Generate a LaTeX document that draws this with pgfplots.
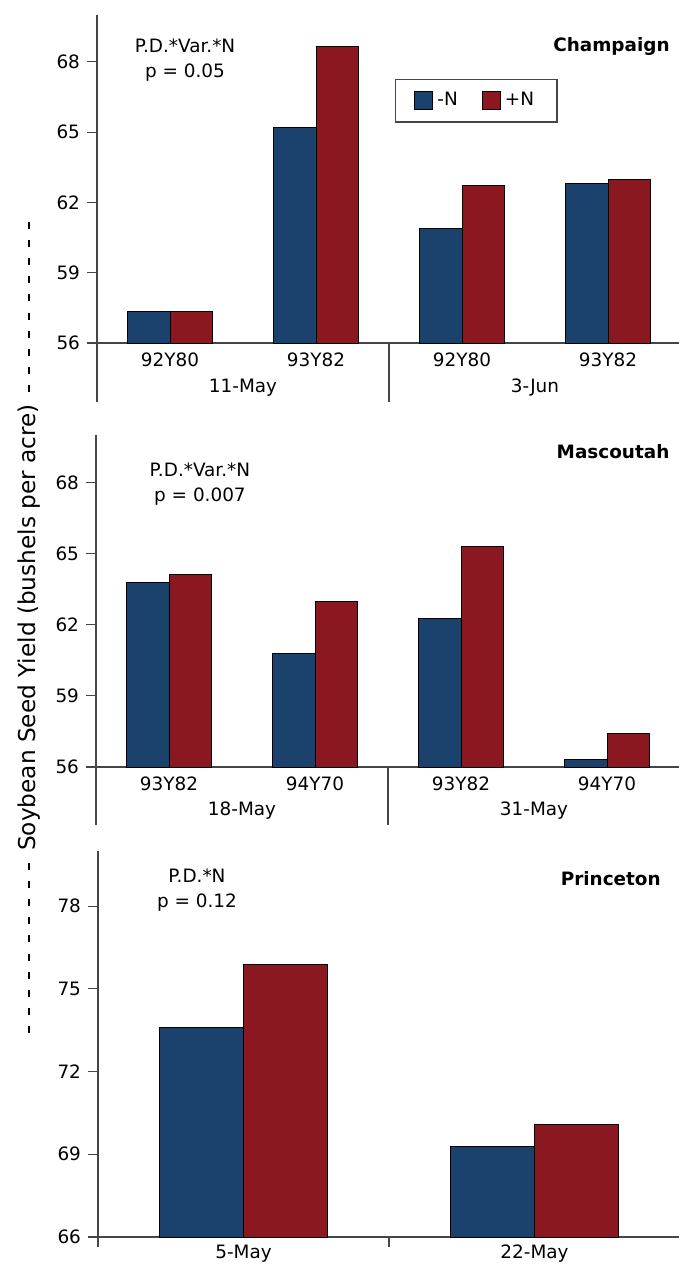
\documentclass[border=0pt]{standalone}
\usepackage{fontspec}
\setmainfont{DejaVu Sans}
\usepackage{pgfplots}
\pgfplotsset{compat=1.18}
\definecolor{nblue}{RGB}{26,66,108}
\definecolor{nred}{RGB}{139,24,32}
\definecolor{axgray}{RGB}{70,70,70}
\newcommand\fsz{\fontsize{9.2pt}{12.5pt}\selectfont}
\pgfplotsset{
  panel/.style={
    scale only axis,
    anchor=north west,
    width=292pt,
    ymin=56, ymax=70,
    ytick={56,59,62,65,68},
    xmin=-0.5, xmax=3.5,
    xtick={0,1,2,3},
    enlargelimits=false,
    axis x line=bottom, axis y line=left,
    axis line style={-, draw=axgray, line width=0.6pt},
    tick align=outside,
    major tick length=5pt,
    ytick style={draw=axgray, line width=0.6pt},
    xtick style={draw=none},
    ybar=0pt, bar width=0.29,
    clip mode=individual,
    /pgf/number format/assume math mode=true,
    tick label style={font=\fsz},
    xticklabel style={anchor=center, yshift=-3.5pt},
    legend image code/.code={\draw[#1,draw=black] (0pt,-4.5pt) rectangle (9pt,4.5pt);},
  },
  neg/.style={fill=nblue, draw=black, line width=0.5pt, bar shift=-0.145},
  pos/.style={fill=nred, draw=black, line width=0.5pt, bar shift=0.145},
}
\begin{document}
\begin{tikzpicture}
\path[use as bounding box] (0pt,0pt) rectangle (339.5pt,-632.5pt);

% y label with dashes
\node[rotate=90, font=\fontsize{11.6pt}{14pt}\selectfont, anchor=center] at (14.5pt,-313.75pt) {Soybean Seed Yield (bushels per acre)};
\draw[line width=1pt, dash pattern=on 3.5pt off 5.56pt] (14.5pt,-111pt) -- (14.5pt,-196pt);
\draw[line width=1pt, dash pattern=on 3.5pt off 5.56pt] (14.5pt,-431.5pt) -- (14.5pt,-516.5pt);

% Panel 1: Champaign
\begin{axis}[panel, at={(48.5pt,-7.5pt)}, height=164pt,
  xticklabels={92Y80,93Y82,92Y80,93Y82},
  legend columns=2,
  legend style={at={(0.510,0.805)}, anchor=north west, draw=axgray, line width=0.6pt,
    font=\fsz, inner xsep=9.5pt, inner ysep=4.5pt,
    /tikz/every even column/.append style={column sep=10pt}},
]
\addplot[neg] coordinates {(0,57.33) (1,65.2) (2,60.88) (3,62.8)};
\addplot[pos] coordinates {(0,57.33) (1,68.65) (2,62.72) (3,63.0)};
\legend{-N,+N}
\node[align=center, font=\fsz] at (axis cs:0.103,68.06) {P.D.*Var.*N\\p = 0.05};
\node[anchor=east, inner sep=0pt, font=\fsz\bfseries] at (axis cs:3.425,68.64) {Champaign};
\node[font=\fsz] at (axis cs:0.5,56) [yshift=-22.5pt] {11-May};
\node[font=\fsz] at (axis cs:2.5,56) [yshift=-22.5pt] {3-Jun};
\draw[axgray, line width=0.6pt] (axis cs:-0.5,56) -- ++(0pt,-29.5pt);
\draw[axgray, line width=0.6pt] (axis cs:1.5,56) -- ++(0pt,-29.5pt);
\end{axis}

% Panel 2: Mascoutah
\begin{axis}[panel, at={(48pt,-217.5pt)}, height=166pt,
  xticklabels={93Y82,94Y70,93Y82,94Y70},
]
\addplot[neg] coordinates {(0,63.8) (1,60.79) (2,62.26) (3,56.3)};
\addplot[pos] coordinates {(0,64.1) (1,63.0) (2,65.28) (3,57.4)};
\node[align=center, font=\fsz] at (axis cs:0.212,67.92) {P.D.*Var.*N\\p = 0.007};
\node[anchor=east, inner sep=0pt, font=\fsz\bfseries] at (axis cs:3.43,69.29) {Mascoutah};
\node[font=\fsz] at (axis cs:0.5,56) [yshift=-22pt] {18-May};
\node[font=\fsz] at (axis cs:2.5,56) [yshift=-22pt] {31-May};
\draw[axgray, line width=0.6pt] (axis cs:-0.5,56) -- ++(0pt,-29pt);
\draw[axgray, line width=0.6pt] (axis cs:1.5,56) -- ++(0pt,-29pt);
\end{axis}

% Panel 3: Princeton
\begin{axis}[panel, at={(49pt,-425.5pt)}, width=291pt, height=193pt,
  ymin=66, ymax=80, ytick={66,69,72,75,78},
  xmin=-0.5, xmax=1.5, xtick={0,1},
  xticklabels={5-May,22-May},
]
\addplot[neg] coordinates {(0,73.6) (1,69.29)};
\addplot[pos] coordinates {(0,75.9) (1,70.09)};
\node[align=center, font=\fsz] at (axis cs:-0.16,78.57) {P.D.*N\\p = 0.12};
\node[anchor=east, inner sep=0pt, font=\fsz\bfseries] at (axis cs:1.435,79.0) {Princeton};
\draw[axgray, line width=0.6pt] (axis cs:-0.5,66) -- ++(0pt,-5pt);
\draw[axgray, line width=0.6pt] (axis cs:0.5,66) -- ++(0pt,-5pt);
\end{axis}
\end{tikzpicture}
\end{document}
